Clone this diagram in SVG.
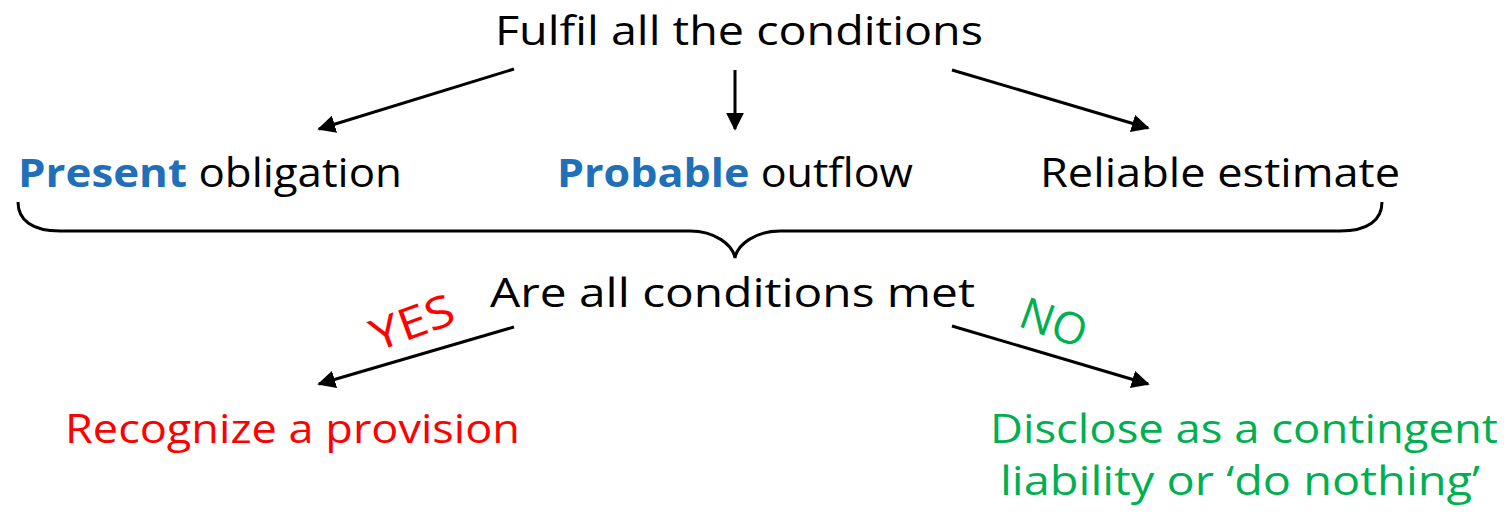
<svg xmlns="http://www.w3.org/2000/svg" width="1506" height="513" viewBox="0 0 1506 513">
<style>
text{font-family:"Open Sans","DejaVu Sans",sans-serif;font-size:40px;fill:#000}
.b{fill:#1F70B8;font-weight:bold}
.r{fill:#FF0000}
.g{fill:#00B050}
.l{font-size:44px}
.c{stroke:#000;stroke-width:3;fill:none}
</style>
<defs>
<marker id="ah" viewBox="0 0 10 10" refX="9" refY="5" markerWidth="6" markerHeight="6" markerUnits="strokeWidth" orient="auto">
<path d="M0,0 L10,5 L0,10 Z" fill="#000"/>
</marker>
</defs>
<g id="top"><text x="495" y="45" textLength="488" lengthAdjust="spacingAndGlyphs">Fulfil all the conditions</text></g>
<g id="present"><text x="18" y="187" textLength="384" lengthAdjust="spacingAndGlyphs"><tspan class="b">Present</tspan> obligation</text></g>
<g id="probable"><text x="557" y="187" textLength="356" lengthAdjust="spacingAndGlyphs"><tspan class="b">Probable</tspan> outflow</text></g>
<g id="reliable"><text x="1040" y="187" textLength="360" lengthAdjust="spacingAndGlyphs">Reliable estimate</text></g>
<g id="question"><text x="490" y="307" textLength="485" lengthAdjust="spacingAndGlyphs">Are all conditions met</text></g>
<g id="recognize"><text class="r" x="65" y="443" textLength="455" lengthAdjust="spacingAndGlyphs">Recognize a provision</text></g>
<g id="disclose"><text class="g" x="990" y="443" textLength="508" lengthAdjust="spacingAndGlyphs">Disclose as a contingent</text><text class="g" x="1000" y="495" textLength="480" lengthAdjust="spacingAndGlyphs">liability or ‘do nothing’</text></g>
<g id="connectors">
<line class="c" x1="514" y1="69" x2="319" y2="129" marker-end="url(#ah)"/>
<line class="c" x1="735" y1="70" x2="735" y2="129" marker-end="url(#ah)"/>
<line class="c" x1="952" y1="70" x2="1148" y2="128" marker-end="url(#ah)"/>
<path class="c" d="M18,202 C18,220 32,231 60,231 L690,231 C715,231 733,245 735,258 C737,245 755,231 780,231 L1340,231 C1368,231 1382,220 1382,202"/>
<line class="c" x1="514" y1="327" x2="319" y2="384" marker-end="url(#ah)"/>
<line class="c" x1="952" y1="326" x2="1148" y2="384" marker-end="url(#ah)"/>
<text class="r l" x="412" y="338" text-anchor="middle" textLength="86" lengthAdjust="spacingAndGlyphs" transform="rotate(-20 412 322)">YES</text>
<text class="g l" x="1054" y="338" text-anchor="middle" textLength="68" lengthAdjust="spacingAndGlyphs" transform="rotate(20 1054 322)">NO</text>
</g>
</svg>
